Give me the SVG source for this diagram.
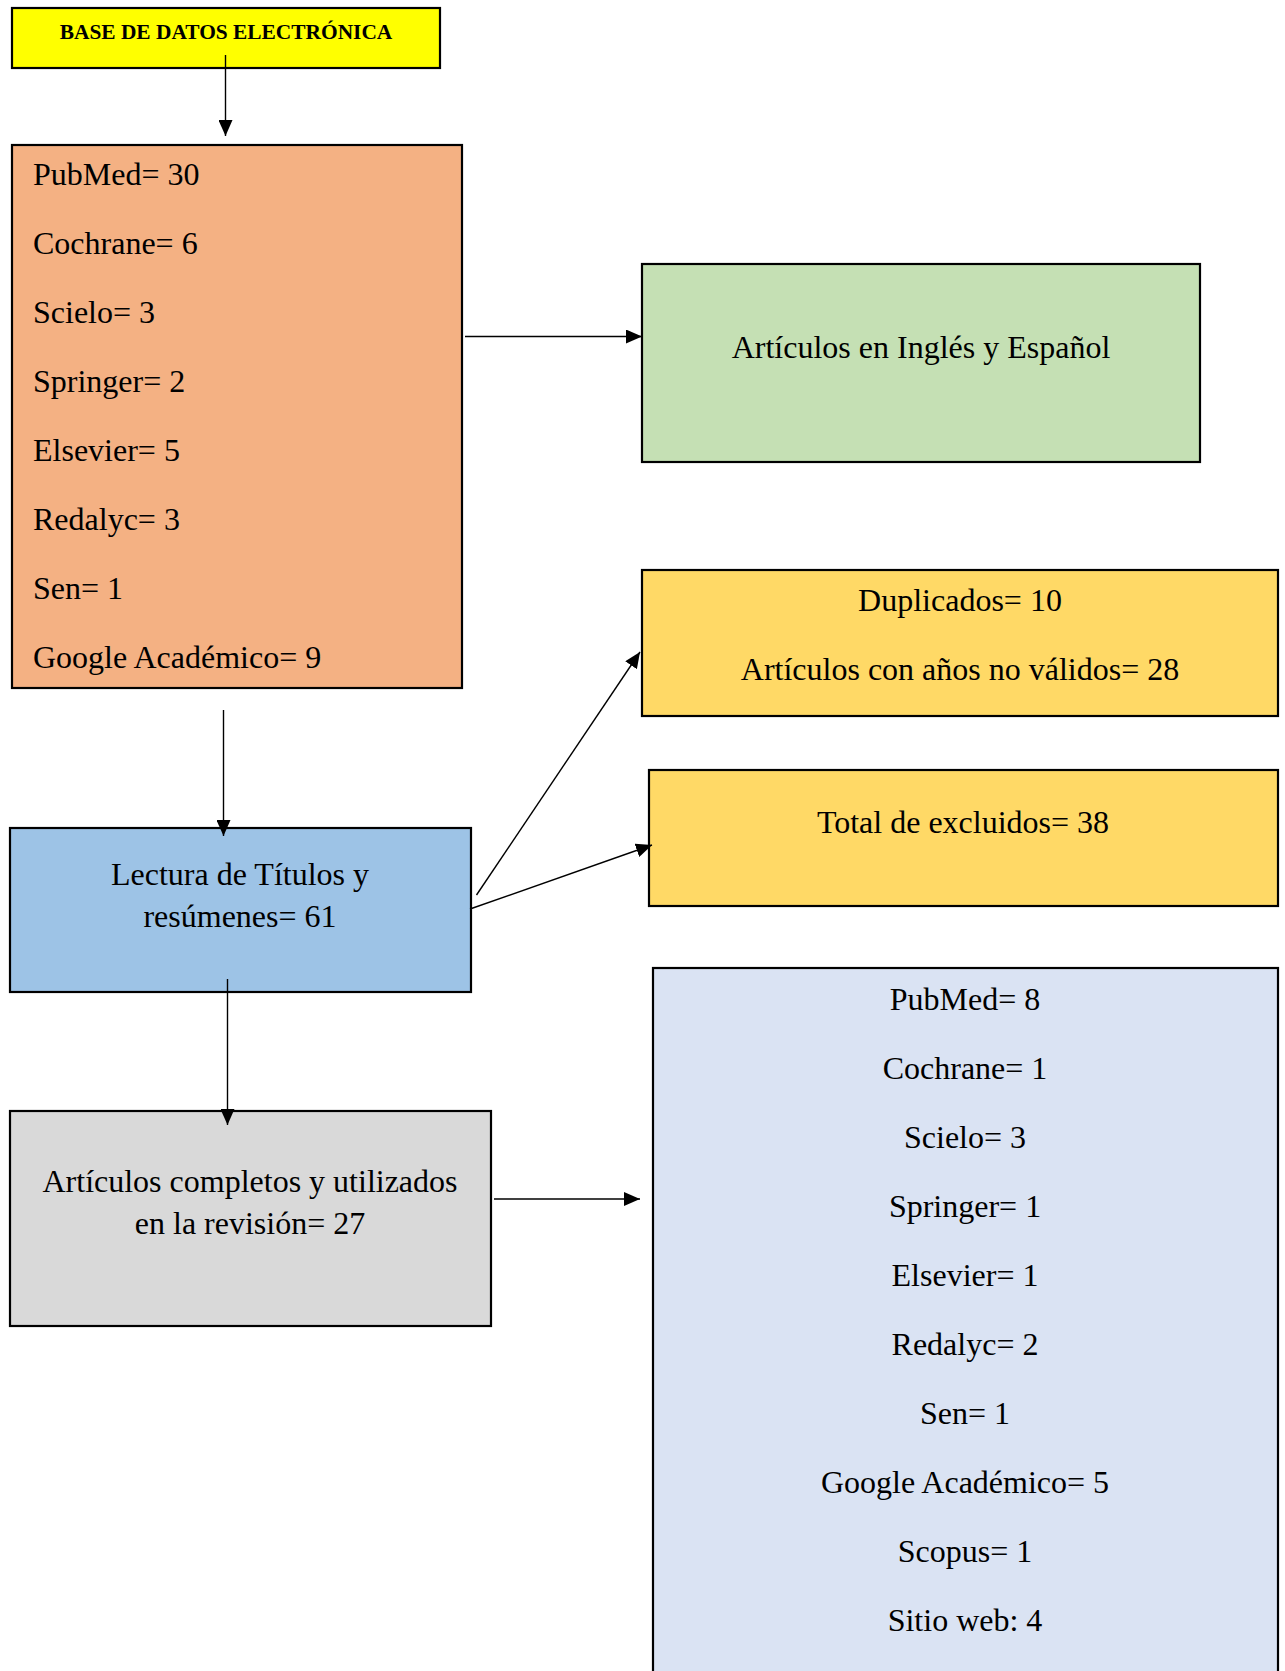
<svg xmlns="http://www.w3.org/2000/svg" width="1285" height="1671" viewBox="0 0 1285 1671">
<style>
.box{stroke:#000;stroke-width:2.2}
.t{font-family:"Liberation Serif","Times New Roman",serif;font-size:32px;fill:#000}
.c{text-anchor:middle}
.h{font-family:"Liberation Serif","Times New Roman",serif;font-size:21.4px;font-weight:bold;fill:#000;text-anchor:middle}
.ln{stroke:#000;stroke-width:1.4;fill:none;marker-end:url(#arr)}
</style>
<defs>
<marker id="arr" viewBox="0 0 16 14" refX="16" refY="7" markerWidth="16" markerHeight="14" orient="auto" markerUnits="userSpaceOnUse">
<path d="M0,0 L16,7 L0,14 z" fill="#000"/>
</marker>
</defs>
<rect width="1285" height="1671" fill="#fff"/>
<g id="n-base">
<rect class="box" x="12" y="8" width="428" height="60" fill="#FFFF00"/>
<text class="h" x="226" y="39">BASE DE DATOS ELECTRÓNICA</text>
</g>
<g id="n-fuentes">
<rect class="box" x="12" y="145" width="450" height="543" fill="#F4B183"/>
<text class="t" x="33" y="185">PubMed= 30</text>
<text class="t" x="33" y="254">Cochrane= 6</text>
<text class="t" x="33" y="323">Scielo= 3</text>
<text class="t" x="33" y="392">Springer= 2</text>
<text class="t" x="33" y="461">Elsevier= 5</text>
<text class="t" x="33" y="530">Redalyc= 3</text>
<text class="t" x="33" y="599">Sen= 1</text>
<text class="t" x="33" y="668">Google Académico= 9</text>
</g>
<g id="n-idioma">
<rect class="box" x="642" y="264" width="558" height="198" fill="#C5E0B4"/>
<text class="t c" x="921" y="358">Artículos en Inglés y Español</text>
</g>
<g id="n-duplicados">
<rect class="box" x="642" y="570" width="636" height="146" fill="#FFD966"/>
<text class="t c" x="960" y="611">Duplicados= 10</text>
<text class="t c" x="960" y="680">Artículos con años no válidos= 28</text>
</g>
<g id="n-excluidos">
<rect class="box" x="649" y="770" width="629" height="136" fill="#FFD966"/>
<text class="t c" x="963" y="833">Total de excluidos= 38</text>
</g>
<g id="n-lectura">
<rect class="box" x="10" y="828" width="461" height="164" fill="#9DC3E6"/>
<text class="t c" x="240" y="885">Lectura de Títulos y</text>
<text class="t c" x="240" y="927">resúmenes= 61</text>
</g>
<g id="n-completos">
<rect class="box" x="10" y="1111" width="481" height="215" fill="#D9D9D9"/>
<text class="t c" x="250" y="1192">Artículos completos y utilizados</text>
<text class="t c" x="250" y="1234">en la revisión= 27</text>
</g>
<g id="n-final">
<rect class="box" x="653" y="968" width="625" height="730" fill="#DAE3F3"/>
<text class="t c" x="965" y="1010">PubMed= 8</text>
<text class="t c" x="965" y="1079">Cochrane= 1</text>
<text class="t c" x="965" y="1148">Scielo= 3</text>
<text class="t c" x="965" y="1217">Springer= 1</text>
<text class="t c" x="965" y="1286">Elsevier= 1</text>
<text class="t c" x="965" y="1355">Redalyc= 2</text>
<text class="t c" x="965" y="1424">Sen= 1</text>
<text class="t c" x="965" y="1493">Google Académico= 5</text>
<text class="t c" x="965" y="1562">Scopus= 1</text>
<text class="t c" x="965" y="1631">Sitio web: 4</text>
</g>
<g id="connectors">
<line class="ln" x1="225.5" y1="55" x2="225.5" y2="136"/>
<line class="ln" x1="465" y1="336.5" x2="642" y2="336.5"/>
<line class="ln" x1="223.5" y1="710" x2="223.5" y2="836"/>
<line class="ln" x1="476.5" y1="895" x2="640" y2="652"/>
<line class="ln" x1="470" y1="909" x2="652" y2="845"/>
<line class="ln" x1="227.5" y1="979" x2="227.5" y2="1125"/>
<line class="ln" x1="494" y1="1199" x2="640" y2="1199"/>
</g>
</svg>
